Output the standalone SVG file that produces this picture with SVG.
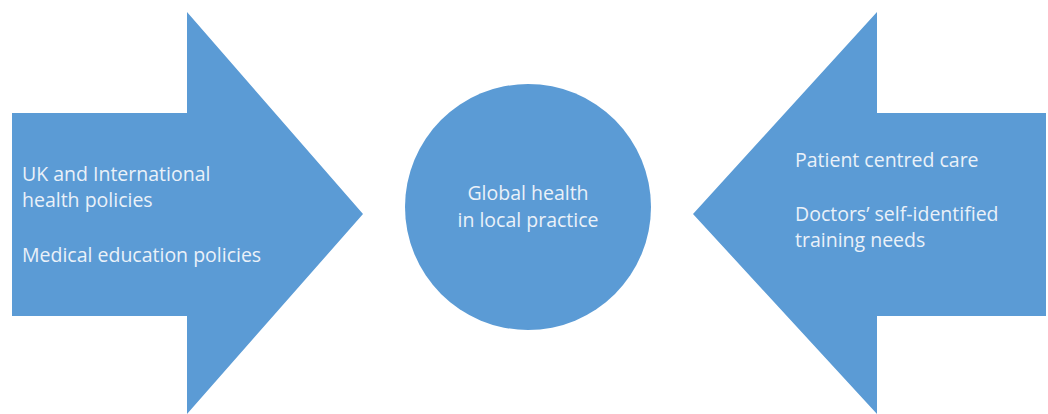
<svg xmlns="http://www.w3.org/2000/svg" width="1048" height="414" viewBox="0 0 1048 414">
<style>
.shape{fill:#5B9BD5;}
.t{font-family:"Open Sans","Noto Sans","Liberation Sans",sans-serif;font-size:19.5px;fill:#EAF1F9;}
.c{text-anchor:middle;}
</style>
<rect width="1048" height="414" fill="#FFFFFF"/>
<g id="arrow-left">
<polygon class="shape" points="12,113 187,113 187,12 363,214 187,414 187,316 12,316"/>
<text class="t" x="22" y="181">UK and International</text>
<text class="t" x="22" y="207">health policies</text>
<text class="t" x="22" y="262">Medical education policies</text>
</g>
<g id="circle-center">
<circle class="shape" cx="528" cy="207" r="123"/>
<text class="t c" x="528" y="200">Global health</text>
<text class="t c" x="528" y="227">in local practice</text>
</g>
<g id="arrow-right">
<polygon class="shape" points="1046,113 877,113 877,12 693,214 877,414 877,316 1046,316"/>
<text class="t" x="795" y="167">Patient centred care</text>
<text class="t" x="795" y="221">Doctors’ self-identified</text>
<text class="t" x="795" y="247">training needs</text>
</g>
<g id="connectors"></g>
</svg>
